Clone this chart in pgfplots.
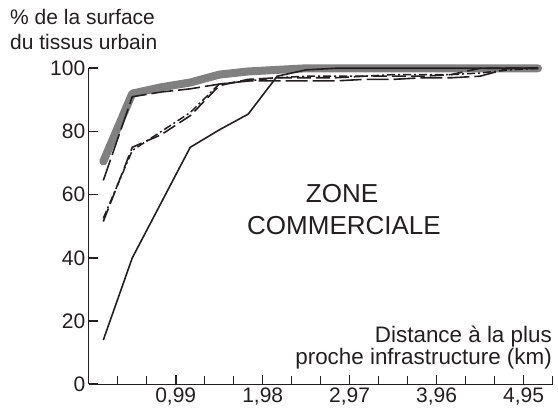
\documentclass[border=0pt]{standalone}
\usepackage{pgfplots}
\usepackage{pgfplotstable}
\pgfplotsset{compat=1.18}
\usepackage{fontspec}
\setmainfont{Liberation Sans}

\definecolor{txt}{RGB}{35,31,32}
\definecolor{band}{RGB}{128,128,128}

% distance (km), share of urban fabric (%) for each curve
\pgfplotstableread{
x      gray   A      B      C      D
0.165  70.5   64.5   51.5   52.5   14
0.495  92     91     75     74     40
0.825  94     92.5   79     80     57.5
1.155  95.5   93.5   85     86     75
1.485  98     95     94.5   95     80.5
1.815  99     96     96.5   96     85.5
2.145  99.5   96     97     97     97.5
2.475  100    96     97     97.5   99.5
2.805  100    96     97     97.5   100
3.135  100    96.5   97.5   97.5   100
3.465  100    96.5   97.5   98     100
3.795  100    97     97.5   98     100
4.125  100    97     98     98     100
4.455  100    97.5   100    98.5   100
4.785  100    100    100    99.5   100
5.115  100    100    100    100    100
}\surface

\begin{document}
\begin{tikzpicture}[x=1pt,y=1pt]
\path[use as bounding box] (0,0) rectangle (558,410);
\begin{axis}[
    at={(88.8pt,25.7pt)}, anchor=south west,
    scale only axis,
    width=463.7pt, height=316pt,
    xmin=0, xmax=5.28, ymin=0, ymax=100,
    axis x line=bottom, axis y line=left,
    axis line style={-, line width=1.3pt, txt},
    clip=false,
    ytick={0,20,...,100},
    xtick={0.99,1.98,2.97,3.96,4.95},
    minor xtick={0.33,0.66,1.32,1.65,2.31,2.64,3.3,3.63,4.29,4.62,5.28},
    tick align=inside,
    major tick length=9pt, minor tick length=8pt,
    every major tick/.style={line width=1.6pt, txt},
    every minor tick/.style={line width=1pt, txt},
    tick label style={font=\fontsize{21}{24}\selectfont, text=txt},
    /pgf/number format/assume math mode=true,
    xticklabel style={/pgf/number format/.cd, use comma, fixed, fixed zerofill, precision=2},
    ]
\addplot[band, line width=8pt, line cap=round, line join=round] table[x=x, y=gray] {\surface};
\addplot[txt, line width=1.6pt, dash pattern=on 22pt off 5pt] table[x=x, y=A] {\surface};
\addplot[txt, line width=1.6pt, dash pattern=on 14pt off 5pt] table[x=x, y=B] {\surface};
\addplot[txt, line width=1.5pt, dash pattern=on 8pt off 3pt on 2pt off 3pt] table[x=x, y=C] {\surface};
\addplot[txt, line width=1.6pt] table[x=x, y=D] {\surface};
\end{axis}
\begin{scope}[every node/.style={inner sep=0pt, text=txt, font=\fontsize{21}{24}\selectfont}]
\node[anchor=base west] at (10,385) {\% de la surface};
\node[anchor=base west] at (10,360) {du tissus urbain};
\node[anchor=base east, font=\fontsize{22.4}{26}\selectfont] at (552,67) {Distance à la plus};
\node[anchor=base east, font=\fontsize{22.4}{26}\selectfont] at (552,45) {proche infrastructure (km)};
\node[anchor=base, font=\fontsize{26}{30}\selectfont] at (342,207) {ZONE};
\node[anchor=base, font=\fontsize{26}{30}\selectfont] at (344,175) {COMMERCIALE};
\end{scope}
\end{tikzpicture}
\end{document}
